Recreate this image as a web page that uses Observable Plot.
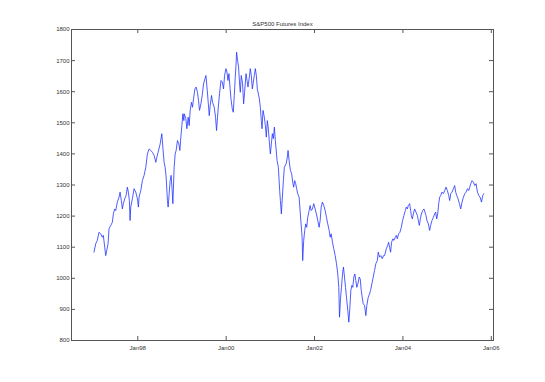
<!DOCTYPE html>
<html><head><meta charset="utf-8">
<script src="https://cdn.jsdelivr.net/npm/d3@7"></script>
<script src="https://cdn.jsdelivr.net/npm/@observablehq/plot@0.6"></script>
<style>html,body{margin:0;padding:0;background:#fff} svg{display:block}</style>
</head><body><div id="chart"></div>
<script>
const title = "S&P500 Futures Index";

// [decimal year, index level]
const p1997_1998 = [[1997.009,1084],[1997.048,1111],[1997.084,1122],[1997.122,1148],[1997.161,1143],[1997.197,1132],[1997.220,1138],[1997.252,1100],[1997.274,1073],[1997.297,1089],[1997.327,1111],[1997.349,1159],[1997.388,1170],[1997.424,1180],[1997.447,1207],[1997.478,1223],[1997.501,1218],[1997.537,1245],[1997.576,1261],[1997.599,1277],[1997.628,1250],[1997.651,1223],[1997.673,1240],[1997.705,1256],[1997.735,1266],[1997.764,1293],[1997.787,1277],[1997.810,1250],[1997.825,1186],[1997.841,1229],[1997.878,1256],[1997.916,1288],[1997.955,1277],[1997.991,1256],[1998.014,1229],[1998.029,1261],[1998.068,1282],[1998.104,1314],[1998.143,1331],[1998.181,1357],[1998.218,1400],[1998.256,1416],[1998.295,1411],[1998.331,1405],[1998.370,1395],[1998.408,1373],[1998.431,1389],[1998.460,1405],[1998.506,1432],[1998.544,1465],[1998.567,1422],[1998.596,1373],[1998.619,1357],[1998.642,1325],[1998.671,1250],[1998.687,1229],[1998.710,1272],[1998.732,1314],[1998.755,1331],[1998.778,1282],[1998.794,1240],[1998.823,1357],[1998.846,1400],[1998.868,1411],[1998.898,1443],[1998.930,1432],[1998.952,1411],[1998.975,1454],[1998.998,1491],[1999.020,1529],[1999.043,1507]];

const p1999_2001 = [[1999.050,1529],[1999.088,1513],[1999.111,1481],[1999.141,1518],[1999.163,1491],[1999.186,1540],[1999.215,1566],[1999.238,1550],[1999.261,1577],[1999.293,1609],[1999.322,1615],[1999.351,1598],[1999.374,1572],[1999.397,1540],[1999.429,1561],[1999.458,1588],[1999.488,1625],[1999.519,1641],[1999.542,1652],[1999.565,1615],[1999.594,1566],[1999.617,1523],[1999.639,1556],[1999.669,1588],[1999.692,1566],[1999.730,1550],[1999.760,1518],[1999.782,1475],[1999.805,1518],[1999.828,1561],[1999.850,1593],[1999.882,1636],[1999.912,1631],[1999.941,1609],[1999.964,1652],[1999.995,1674],[2000.018,1663],[2000.041,1636],[2000.063,1658],[2000.086,1615],[2000.109,1577],[2000.138,1545],[2000.161,1534],[2000.184,1588],[2000.206,1647],[2000.222,1684],[2000.236,1727],[2000.259,1700],[2000.281,1679],[2000.304,1625],[2000.320,1598],[2000.342,1652],[2000.372,1625],[2000.395,1561],[2000.417,1598],[2000.449,1658],[2000.472,1636],[2000.494,1615],[2000.524,1647],[2000.546,1674],[2000.569,1652],[2000.592,1609],[2000.615,1631],[2000.637,1652],[2000.660,1674],[2000.683,1652],[2000.705,1609],[2000.728,1593],[2000.751,1577],[2000.773,1550],[2000.796,1507],[2000.812,1481],[2000.834,1540],[2000.864,1518],[2000.887,1491],[2000.909,1454],[2000.932,1507],[2000.955,1481],[2000.977,1438],[2001.000,1400],[2001.023,1432],[2001.045,1465],[2001.068,1449],[2001.091,1486],[2001.113,1443],[2001.152,1379],[2001.181,1357],[2001.211,1282],[2001.227,1250],[2001.249,1207],[2001.272,1261],[2001.295,1314]];

const p2001_2003 = [[2001.317,1357],[2001.356,1368],[2001.379,1384],[2001.401,1411],[2001.424,1379],[2001.454,1347],[2001.483,1336],[2001.506,1309],[2001.528,1293],[2001.551,1314],[2001.574,1304],[2001.596,1288],[2001.619,1272],[2001.651,1261],[2001.673,1218],[2001.696,1175],[2001.719,1132],[2001.732,1057],[2001.755,1122],[2001.778,1154],[2001.800,1175],[2001.823,1164],[2001.846,1196],[2001.878,1218],[2001.900,1234],[2001.923,1218],[2001.952,1223],[2001.982,1240],[2002.014,1223],[2002.043,1207],[2002.073,1186],[2002.104,1164],[2002.127,1186],[2002.150,1229],[2002.179,1245],[2002.209,1234],[2002.240,1218],[2002.270,1196],[2002.299,1175],[2002.331,1154],[2002.354,1132],[2002.376,1143],[2002.406,1116],[2002.435,1095],[2002.467,1073],[2002.497,1047],[2002.526,1014],[2002.549,971],[2002.565,875],[2002.587,934],[2002.610,971],[2002.633,1014],[2002.655,1036],[2002.678,1004],[2002.701,971],[2002.723,939],[2002.753,896],[2002.776,859],[2002.798,902],[2002.821,961],[2002.844,977],[2002.866,971],[2002.889,1004],[2002.912,1014],[2002.934,993],[2002.957,971],[2002.980,982],[2003.011,1004],[2003.034,998],[2003.057,961],[2003.079,939],[2003.102,918],[2003.132,913],[2003.161,880],[2003.184,913],[2003.215,939],[2003.245,950],[2003.268,961],[2003.297,982],[2003.329,1004],[2003.358,1025],[2003.388,1047],[2003.420,1057],[2003.442,1084],[2003.472,1068],[2003.501,1073],[2003.533,1063],[2003.562,1073]];

const p2003_2005 = [[2003.585,1073],[2003.624,1095],[2003.653,1105],[2003.676,1116],[2003.698,1100],[2003.721,1084],[2003.744,1116],[2003.773,1127],[2003.796,1122],[2003.828,1132],[2003.850,1138],[2003.873,1127],[2003.902,1143],[2003.932,1148],[2003.964,1164],[2003.993,1186],[2004.023,1202],[2004.054,1218],[2004.077,1229],[2004.100,1223],[2004.122,1234],[2004.152,1240],[2004.175,1218],[2004.190,1202],[2004.213,1191],[2004.236,1207],[2004.265,1223],[2004.295,1213],[2004.327,1202],[2004.349,1186],[2004.372,1170],[2004.395,1191],[2004.417,1207],[2004.447,1218],[2004.476,1223],[2004.499,1213],[2004.522,1202],[2004.544,1186],[2004.576,1175],[2004.605,1154],[2004.628,1170],[2004.658,1186],[2004.689,1196],[2004.719,1207],[2004.741,1213],[2004.764,1191],[2004.787,1207],[2004.810,1240],[2004.832,1261],[2004.855,1266],[2004.884,1277],[2004.916,1272],[2004.946,1282],[2004.975,1293],[2005.007,1282],[2005.036,1266],[2005.059,1250],[2005.082,1272],[2005.111,1277],[2005.143,1288],[2005.172,1298],[2005.195,1277],[2005.218,1266],[2005.247,1256],[2005.279,1240],[2005.308,1223],[2005.338,1245],[2005.370,1261],[2005.399,1272],[2005.429,1277],[2005.460,1288],[2005.490,1282],[2005.512,1293],[2005.535,1304],[2005.565,1314],[2005.596,1309],[2005.626,1298],[2005.655,1304],[2005.687,1277],[2005.717,1266],[2005.746,1261],[2005.778,1245],[2005.807,1266],[2005.830,1272]];

const xTicks = [1998, 2000, 2002, 2004, 2006];
const xTickLabels = ["Jan98", "Jan00", "Jan02", "Jan04", "Jan06"];
const yTicks = [800, 900, 1000, 1100, 1200, 1300, 1400, 1500, 1600, 1700, 1800];

const data = [...p1997_1998, ...p1999_2001, ...p2001_2003, ...p2003_2005]
  .map(([t, v]) => ({t, v}));

const W = 545, H = 382, mL = 71, mR = 52, mT = 29, mB = 42;
const pw = W - mL - mR, ph = H - mT - mB;
const axisColor = "#555";
const textColor = "#333";

const chart = Plot.plot({
  width: W, height: H,
  marginLeft: mL, marginRight: mR, marginTop: mT, marginBottom: mB,
  style: {fontFamily: "'Liberation Sans', Arial, sans-serif", fontSize: "6px", background: "#fff", color: textColor},
  x: {domain: [1996.5, 2006.05], label: null},
  y: {domain: [800, 1800], label: null},
  marks: [
    Plot.axisX(xTicks, {tickSize: 0, tickPadding: 5, tickFormat: (d) => xTickLabels[xTicks.indexOf(d)], fill: textColor, label: null}),
    Plot.axisY(yTicks, {tickSize: 0, tickPadding: 2, tickFormat: (d) => String(d), fill: textColor, label: null}),
    Plot.tickX(xTicks, {x: d => d, insetTop: ph - 4, stroke: axisColor}),
    Plot.tickX(xTicks, {x: d => d, insetBottom: ph - 4, stroke: axisColor}),
    Plot.tickY(yTicks, {y: d => d, insetRight: pw - 4, stroke: axisColor}),
    Plot.tickY(yTicks, {y: d => d, insetLeft: pw - 4, stroke: axisColor}),
    Plot.line(data, {x: "t", y: "v", stroke: "#2233ff", strokeWidth: 0.8}),
    Plot.frame({stroke: axisColor}),
    Plot.text([title], {frameAnchor: "top", dy: -8, fontSize: 6, fill: textColor})
  ]
});
document.getElementById("chart").append(chart);
</script>
</body></html>
